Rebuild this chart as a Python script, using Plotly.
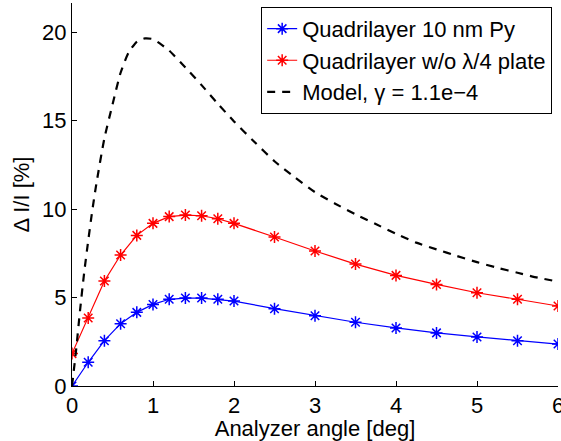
import plotly.graph_objects as go

# Measured angles (deg) for both quadrilayer series
angle = [0, 0.2, 0.4, 0.6, 0.8, 1.0, 1.2, 1.4, 1.6, 1.8, 2.0,
         2.5, 3.0, 3.5, 4.0, 4.5, 5.0, 5.5, 6.0]

# Delta I / I in percent
py10 = [0.0, 1.34, 2.56, 3.52, 4.16, 4.61, 4.90, 4.97, 4.97, 4.90, 4.80,
        4.37, 3.97, 3.60, 3.28, 3.00, 2.77, 2.56, 2.37]
no_plate = [1.83, 3.84, 5.93, 7.40, 8.51, 9.19, 9.57, 9.66, 9.62, 9.45, 9.19,
            8.42, 7.63, 6.89, 6.25, 5.74, 5.27, 4.90, 4.52]

# Model curve
model_angle = [0, 0.05, 0.1, 0.15, 0.2, 0.25, 0.3, 0.4, 0.5, 0.6, 0.7, 0.8,
               0.9, 1.0, 1.1, 1.2, 1.4, 1.6, 1.8, 2.0, 2.25, 2.5, 2.75, 3.0,
               3.25, 3.5, 3.75, 4.0, 4.25, 4.5, 4.75, 5.0, 5.25, 5.5, 5.75, 6.0]
model = [0.0, 2.0, 4.3, 6.4, 8.2, 9.9, 11.4, 14.0, 15.9, 17.7, 18.85, 19.45,
         19.64, 19.6, 19.3, 18.95, 18.0, 17.0, 15.95, 14.95, 13.8, 12.7, 11.8, 10.95,
         10.3, 9.7, 9.15, 8.6, 8.1, 7.72, 7.35, 7.0, 6.68, 6.4, 6.12, 5.9]

x_ticks = [0, 1, 2, 3, 4, 5, 6]
y_ticks = [0, 5, 10, 15, 20]

FONT = "Liberation Sans, Arial, Helvetica, sans-serif"

fig = go.Figure()
fig.add_trace(go.Scatter(
    x=angle, y=py10, mode="lines+markers", name="Quadrilayer 10 nm Py",
    line=dict(color="#0000ff", width=1.2),
    marker=dict(symbol="asterisk-open", size=10, line=dict(color="#0000ff", width=1.5)),
))
fig.add_trace(go.Scatter(
    x=angle, y=no_plate, mode="lines+markers", name="Quadrilayer w/o λ/4 plate",
    line=dict(color="#ff0000", width=1.2),
    marker=dict(symbol="asterisk-open", size=10, line=dict(color="#ff0000", width=1.5)),
))
fig.add_trace(go.Scatter(
    x=model_angle, y=model, mode="lines", name="Model, γ = 1.1e−4",
    line=dict(color="black", width=2.2, dash="8px,7px", shape="spline", smoothing=0.6),
))

axis_common = dict(
    showline=True, linecolor="black", linewidth=1,
    ticks="inside", ticklen=5, tickcolor="black", tickwidth=1,
    showgrid=False, zeroline=False, mirror=False,
    tickfont=dict(family=FONT, size=22, color="black"),
    ticklabeloverflow="allow",
)
fig.update_xaxes(range=[0, 6], tickvals=x_ticks,
                 title=dict(text="Analyzer angle [deg]", standoff=2,
                            font=dict(family=FONT, size=22, color="black")),
                 **axis_common)
fig.update_yaxes(range=[0, 21.64], tickvals=y_ticks,
                 title=dict(text="Δ I/I [%]", standoff=6,
                            font=dict(family=FONT, size=22, color="black")),
                 **axis_common)

fig.update_layout(
    width=561, height=441,
    margin=dict(l=72, r=3, t=3, b=55, autoexpand=False),
    plot_bgcolor="white", paper_bgcolor="white",
    font=dict(family=FONT, color="black"),
    showlegend=True,
    legend=dict(
        x=0.988, y=0.99, xanchor="right", yanchor="top",
        bordercolor="black", borderwidth=1, bgcolor="white",
        font=dict(family=FONT, size=22, color="black"),
        tracegroupgap=0,
    ),
)

fig.write_html("out.html")
